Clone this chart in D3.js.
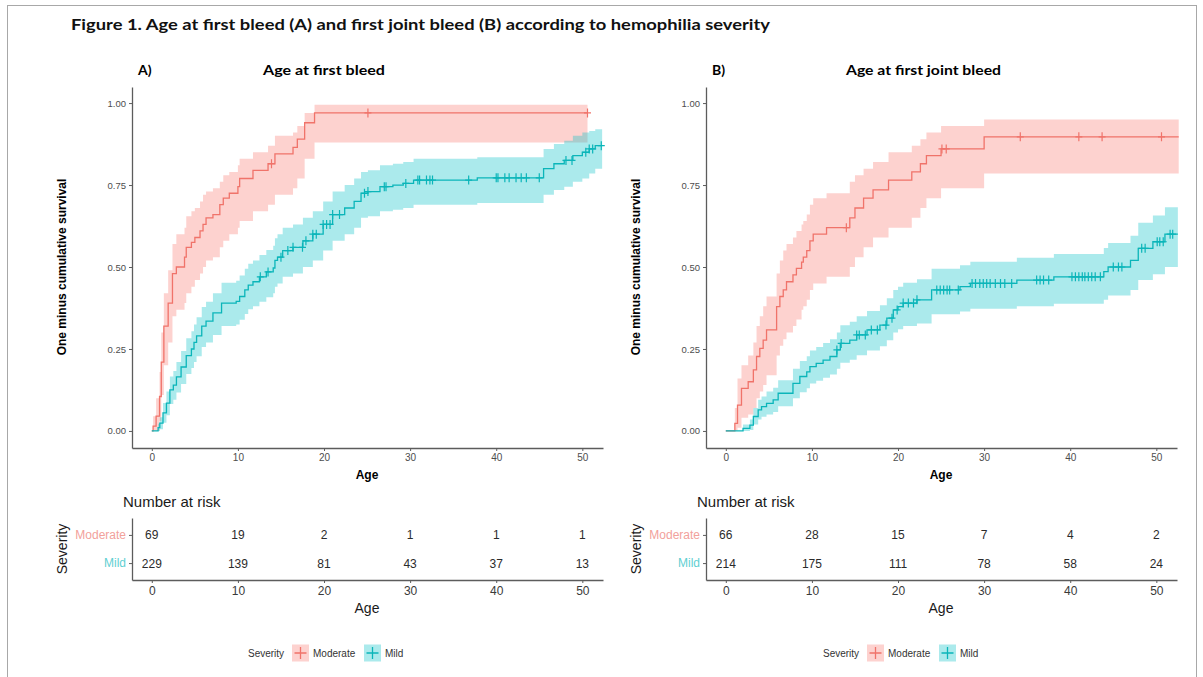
<!DOCTYPE html>
<html>
<head>
<meta charset="utf-8">
<script src="https://cdn.jsdelivr.net/npm/d3@7"></script>
<style>
body { margin: 0; background: #fff; }
</style>
</head>
<body>
<script>
// values

var figTitle = "Figure 1. Age at first bleed (A) and first joint bleed (B) according to hemophilia severity";
var ageTicks = [0, 10, 20, 30, 40, 50];
var survTicks = [0, 0.25, 0.5, 0.75, 1];
var severities = ["Moderate", "Mild"];

// A) age at first bleed, moderate
var aModTime = [0, 0.15, 0.5, 0.9, 1.1, 1.4, 1.9, 2.4, 2.85, 3.8, 4.0, 4.6, 5.0, 5.6, 5.95, 6.3, 7.1, 7.9, 8.3, 9.0, 10.0, 10.2, 11.75, 13.5, 14.3, 16.4, 16.9, 17.75, 18.9];
var aModEst = [0, 0.015, 0.045, 0.105, 0.21, 0.32, 0.39, 0.48, 0.50, 0.53, 0.56, 0.575, 0.59, 0.61, 0.63, 0.65, 0.66, 0.69, 0.71, 0.725, 0.745, 0.77, 0.795, 0.815, 0.845, 0.865, 0.89, 0.94, 0.97];
var aModLo = [0, 0, 0, 0.03, 0.11, 0.2, 0.27, 0.35, 0.37, 0.39, 0.42, 0.44, 0.46, 0.48, 0.5, 0.52, 0.53, 0.56, 0.58, 0.6, 0.62, 0.64, 0.67, 0.69, 0.72, 0.74, 0.77, 0.83, 0.88];
var aModHi = [0, 0.045, 0.1, 0.18, 0.3, 0.42, 0.49, 0.57, 0.6, 0.62, 0.655, 0.67, 0.68, 0.7, 0.72, 0.73, 0.74, 0.76, 0.78, 0.79, 0.81, 0.83, 0.85, 0.87, 0.9, 0.91, 0.93, 0.97, 0.995];
var aModCens = [13.9, 25.1, 50.6];
var aModEnd = 50.6;

// A) age at first bleed, mild
var aMildTime = [0, 0.73, 0.93, 1.3, 1.7, 2.1, 2.5, 2.86, 3.4, 4.0, 4.6, 4.9, 5.2, 5.8, 6.3, 7.1, 8.1, 9.8, 10.2, 10.8, 11.2, 11.75, 12.5, 13.3, 14.1, 14.3, 14.6, 15.2, 16.4, 17.55, 18.7, 19.9, 21.0, 22.4, 23.5, 24.3, 25.1, 26.5, 28.0, 29.2, 30.4, 37.8, 45.5, 46.7, 47.9, 48.9, 50.0, 50.8, 51.5];
var aMildEst = [0, 0.01, 0.024, 0.055, 0.085, 0.125, 0.14, 0.165, 0.195, 0.23, 0.25, 0.27, 0.29, 0.32, 0.335, 0.36, 0.39, 0.395, 0.41, 0.43, 0.445, 0.455, 0.47, 0.485, 0.497, 0.52, 0.53, 0.55, 0.56, 0.58, 0.60, 0.63, 0.66, 0.68, 0.70, 0.725, 0.73, 0.745, 0.75, 0.755, 0.765, 0.772, 0.80, 0.815, 0.825, 0.84, 0.85, 0.86, 0.87];
var aMildLo = [0, 0, 0.005, 0.025, 0.048, 0.082, 0.095, 0.117, 0.143, 0.174, 0.192, 0.21, 0.228, 0.256, 0.27, 0.293, 0.32, 0.325, 0.339, 0.357, 0.371, 0.38, 0.394, 0.408, 0.42, 0.44, 0.45, 0.47, 0.48, 0.5, 0.52, 0.55, 0.58, 0.6, 0.62, 0.65, 0.655, 0.67, 0.675, 0.68, 0.69, 0.695, 0.72, 0.735, 0.745, 0.76, 0.77, 0.785, 0.8];
var aMildHi = [0, 0.022, 0.042, 0.085, 0.12, 0.166, 0.183, 0.21, 0.244, 0.283, 0.304, 0.325, 0.347, 0.378, 0.394, 0.42, 0.452, 0.458, 0.474, 0.495, 0.51, 0.52, 0.537, 0.552, 0.565, 0.588, 0.6, 0.62, 0.63, 0.65, 0.67, 0.7, 0.73, 0.75, 0.77, 0.79, 0.795, 0.81, 0.815, 0.82, 0.83, 0.835, 0.86, 0.875, 0.885, 0.9, 0.91, 0.915, 0.92];
var aMildCens = [12.6, 13.5, 15.0, 15.8, 16.4, 17.5, 17.9, 18.7, 19.1, 19.9, 20.3, 20.7, 21.0, 21.8, 24.7, 25.1, 27.0, 27.2, 29.5, 30.9, 31.1, 31.9, 32.3, 32.6, 36.8, 40.0, 40.2, 41.0, 41.5, 42.3, 42.9, 43.5, 45.0, 48.1, 48.8, 50.4, 50.8, 51.2, 52.2];
var aMildEnd = 52.3;

// B) age at first joint bleed, moderate
var bModTime = [0, 1.05, 1.36, 1.82, 2.6, 3.2, 3.57, 3.95, 4.34, 4.73, 5.9, 6.28, 6.67, 7.05, 7.8, 8.2, 8.8, 9.0, 9.4, 9.77, 10.15, 11.7, 14.4, 15.0, 16.0, 17.1, 18.9, 21.6, 22.6, 23.3, 25.0, 30.0];
var bModEst = [0, 0.023, 0.079, 0.13, 0.15, 0.186, 0.227, 0.252, 0.277, 0.308, 0.379, 0.41, 0.43, 0.455, 0.476, 0.496, 0.515, 0.53, 0.55, 0.58, 0.60, 0.62, 0.65, 0.68, 0.71, 0.735, 0.765, 0.79, 0.815, 0.84, 0.86, 0.897];
var bModLo = [0, 0, 0.01, 0.04, 0.05, 0.07, 0.1, 0.12, 0.14, 0.17, 0.23, 0.26, 0.28, 0.3, 0.32, 0.34, 0.37, 0.38, 0.4, 0.43, 0.45, 0.47, 0.5, 0.53, 0.56, 0.59, 0.62, 0.65, 0.68, 0.71, 0.74, 0.785];
var bModHi = [0, 0.07, 0.16, 0.2, 0.23, 0.27, 0.32, 0.35, 0.38, 0.41, 0.48, 0.52, 0.55, 0.57, 0.59, 0.61, 0.63, 0.64, 0.66, 0.69, 0.71, 0.725, 0.76, 0.78, 0.8, 0.82, 0.85, 0.87, 0.89, 0.91, 0.93, 0.95];
var bModCens = [14.0, 25.1, 25.6, 34.2, 41.0, 43.7, 50.6];
var bModEnd = 52.6;

// B) age at first joint bleed, mild
var bMildTime = [0, 2.0, 2.8, 3.2, 3.76, 4.15, 4.73, 5.5, 6.08, 7.8, 8.6, 9.4, 9.77, 10.5, 11.3, 12.1, 12.9, 13.3, 14.4, 15.2, 16.4, 17.9, 18.7, 19.45, 20.0, 20.6, 22.2, 23.9, 27.2, 28.4, 33.8, 38.1, 43.9, 44.4, 47.0, 47.9, 49.6, 51.0];
var bMildEst = [0, 0.008, 0.018, 0.044, 0.064, 0.074, 0.084, 0.095, 0.115, 0.145, 0.166, 0.18, 0.196, 0.206, 0.216, 0.227, 0.247, 0.267, 0.277, 0.293, 0.308, 0.323, 0.344, 0.369, 0.379, 0.39, 0.40, 0.43, 0.44, 0.45, 0.46, 0.47, 0.486, 0.50, 0.52, 0.557, 0.577, 0.60];
var bMildLo = [0, 0, 0.003, 0.02, 0.035, 0.043, 0.05, 0.058, 0.075, 0.1, 0.118, 0.13, 0.145, 0.153, 0.162, 0.172, 0.19, 0.208, 0.217, 0.231, 0.245, 0.258, 0.277, 0.3, 0.31, 0.32, 0.328, 0.356, 0.364, 0.373, 0.38, 0.388, 0.4, 0.413, 0.43, 0.46, 0.478, 0.5];
var bMildHi = [0, 0.02, 0.035, 0.07, 0.095, 0.105, 0.12, 0.132, 0.155, 0.19, 0.213, 0.228, 0.245, 0.256, 0.268, 0.28, 0.3, 0.322, 0.333, 0.35, 0.366, 0.383, 0.405, 0.43, 0.44, 0.452, 0.463, 0.495, 0.505, 0.516, 0.528, 0.54, 0.558, 0.573, 0.595, 0.635, 0.657, 0.682];
var bMildCens = [12.9, 13.4, 15.2, 15.5, 16.2, 16.9, 17.6, 18.6, 19.3, 19.9, 20.6, 21.2, 21.8, 22.2, 24.5, 24.9, 25.3, 25.7, 26.0, 27.0, 28.6, 29.0, 29.5, 29.9, 30.3, 30.7, 31.3, 31.9, 32.4, 33.2, 36.1, 36.5, 36.9, 37.5, 40.2, 40.6, 41.0, 41.4, 41.7, 42.1, 42.5, 42.9, 43.5, 45.0, 45.6, 46.0, 48.3, 48.7, 50.1, 50.4, 50.8, 51.6, 51.9];
var bMildEnd = 52.5;

// number at risk at ageTicks
var aRiskMod = [69, 19, 2, 1, 1, 1];
var aRiskMild = [229, 139, 81, 43, 37, 13];
var bRiskMod = [66, 28, 15, 7, 4, 2];
var bRiskMild = [214, 175, 111, 78, 58, 24];

var modColor = "#F0736A", mildColor = "#0BB5B9";
var modFill = "#F8766D", mildFill = "#00BFC4";
var modLabel = "#F2A19B", mildLabel = "#5FCFD2";
var font = "'Liberation Sans', Arial, sans-serif";

var svg = d3.select("body").append("svg")
    .attr("width", 1203)
    .attr("height", 677);

// frame around the figure
svg.append("rect")
    .attr("x", 7.5).attr("y", 5.5)
    .attr("width", 1189).attr("height", 700)
    .attr("fill", "none").attr("stroke", "#a8a8a8");

svg.append("text")
    .attr("x", 71).attr("y", 30)
    .attr("font-family", "Lato, sans-serif")
    .attr("font-weight", 700)
    .attr("font-size", 16)
    .attr("textLength", 699)
    .attr("lengthAdjust", "spacingAndGlyphs")
    .attr("fill", "#111")
    .text(figTitle);

function stepValue(times, vals, t) {
    var v = vals[0];
    for (var i = 0; i < times.length; i++) {
        if (times[i] <= t) v = vals[i];
    }
    return v;
}

function styleAxis(sel, size, col) {
    sel.attr("font-family", font).attr("font-size", size);
    sel.select(".domain").attr("stroke", "#5c5c5c").attr("stroke-width", 1.3);
    sel.selectAll(".tick line").attr("stroke", "#5c5c5c");
    sel.selectAll(".tick text").attr("fill", col);
}

function drawPanel(left, letter, title, titleX, titleLen, series, riskMod, riskMild, legendX) {
    var x = d3.scaleLinear().domain([-2.3, 52.4]).range([left, left + 471]);
    var y = d3.scaleLinear().domain([-0.052, 1.049]).range([448, 87]);
    var g = svg.append("g");

    // confidence bands
    series.forEach(function(s) {
        var n = s.time.length - 1;
        var pts = s.time.map(function(t, i) { return [t, s.lo[i], s.hi[i]]; });
        pts.push([s.end, s.lo[n], s.hi[n]]);
        var band = d3.area()
            .curve(d3.curveStepAfter)
            .x(function(d) { return x(d[0]); })
            .y0(function(d) { return y(d[1]); })
            .y1(function(d) { return y(d[2]); });
        g.append("path").datum(pts)
            .attr("d", band)
            .attr("fill", s.fill)
            .attr("fill-opacity", 0.33);
    });

    // survival steps + censor marks
    series.forEach(function(s) {
        var n = s.time.length - 1;
        var pts = s.time.map(function(t, i) { return [t, s.est[i]]; });
        pts.push([s.end, s.est[n]]);
        var line = d3.line()
            .curve(d3.curveStepAfter)
            .x(function(d) { return x(d[0]); })
            .y(function(d) { return y(d[1]); });
        g.append("path").datum(pts)
            .attr("d", line)
            .attr("fill", "none")
            .attr("stroke", s.color)
            .attr("stroke-width", 1.3);

        g.selectAll(null)
            .data(s.cens)
            .enter()
            .append("path")
            .attr("d", "M-3.5,0H3.5M0,-4.5V4.5")
            .attr("transform", function(d) {
                return "translate(" + x(d) + "," + y(stepValue(s.time, s.est, d)) + ")";
            })
            .attr("stroke", s.color)
            .attr("stroke-width", 1.2);
    });

    var gx = g.append("g")
        .attr("transform", "translate(0,448)")
        .call(d3.axisBottom(x).tickValues(ageTicks).tickSize(3).tickSizeOuter(0));
    styleAxis(gx, 10, "#4d4d4d");

    var gy = g.append("g")
        .attr("transform", "translate(" + left + ",0)")
        .call(d3.axisLeft(y).tickValues(survTicks).tickFormat(d3.format(".2f")).tickSize(3).tickSizeOuter(0));
    styleAxis(gy, 9.5, "#4d4d4d");

    g.append("text")
        .attr("x", left + 235).attr("y", 479)
        .attr("text-anchor", "middle")
        .attr("font-family", font).attr("font-weight", 700).attr("font-size", 12)
        .text("Age");

    g.append("text")
        .attr("transform", "translate(" + (left - 66) + ",267) rotate(-90)")
        .attr("text-anchor", "middle")
        .attr("font-family", font).attr("font-weight", 700).attr("font-size", 12)
        .text("One minus cumulative survival");

    g.append("text")
        .attr("x", left + 6).attr("y", 75)
        .attr("font-family", "Lato, sans-serif").attr("font-weight", 700).attr("font-size", 14)
        .text(letter);

    g.append("text")
        .attr("x", titleX).attr("y", 75)
        .attr("font-family", "Lato, sans-serif").attr("font-weight", 700).attr("font-size", 14)
        .attr("textLength", titleLen).attr("lengthAdjust", "spacingAndGlyphs")
        .text(title);

    // number at risk table
    var ry = d3.scalePoint().domain(severities).range([518, 580]).padding(0.6);
    var risk = { Moderate: riskMod, Mild: riskMild };

    g.append("text")
        .attr("x", left - 9).attr("y", 507)
        .attr("font-family", font).attr("font-size", 15)
        .attr("fill", "#1a1a1a")
        .text("Number at risk");

    severities.forEach(function(sev) {
        g.selectAll(null)
            .data(risk[sev])
            .enter()
            .append("text")
            .attr("x", function(d, i) { return x(ageTicks[i]); })
            .attr("y", ry(sev) + 4.5)
            .attr("text-anchor", "middle")
            .attr("font-family", font).attr("font-size", 12)
            .attr("fill", "#2b2b2b")
            .text(function(d) { return d; });
    });

    var tx = g.append("g")
        .attr("transform", "translate(0,580)")
        .call(d3.axisBottom(x).tickValues(ageTicks).tickSize(3).tickSizeOuter(0));
    styleAxis(tx, 12, "#3a3a3a");

    var ty = g.append("g")
        .attr("transform", "translate(" + left + ",0)")
        .call(d3.axisLeft(ry).tickSize(3).tickSizeOuter(0));
    styleAxis(ty, 12, "#3a3a3a");
    ty.selectAll(".tick text").attr("fill", function(d) { return d === "Moderate" ? modLabel : mildLabel; });

    g.append("text")
        .attr("x", left + 235).attr("y", 613)
        .attr("text-anchor", "middle")
        .attr("font-family", font).attr("font-size", 14)
        .attr("fill", "#1a1a1a")
        .text("Age");

    g.append("text")
        .attr("transform", "translate(" + (left - 65) + ",549) rotate(-90)")
        .attr("text-anchor", "middle")
        .attr("font-family", font).attr("font-size", 14)
        .attr("fill", "#1a1a1a")
        .text("Severity");

    // legend
    var lg = g.append("g").attr("transform", "translate(" + legendX + ",653)");
    lg.append("text")
        .attr("x", 0).attr("y", 3.5)
        .attr("font-family", font).attr("font-size", 10).attr("fill", "#333")
        .text("Severity");
    var keys = [
        { label: "Moderate", color: modColor, fill: modFill, kx: 44 },
        { label: "Mild", color: mildColor, fill: mildFill, kx: 116 }
    ];
    keys.forEach(function(k) {
        lg.append("rect")
            .attr("x", k.kx).attr("y", -8.5)
            .attr("width", 17).attr("height", 17)
            .attr("fill", k.fill).attr("fill-opacity", 0.33);
        lg.append("path")
            .attr("d", "M-6,0H6M0,-6V6")
            .attr("transform", "translate(" + (k.kx + 8.5) + ",0)")
            .attr("stroke", k.color).attr("stroke-width", 1.3);
        lg.append("text")
            .attr("x", k.kx + 21).attr("y", 3.5)
            .attr("font-family", font).attr("font-size", 10).attr("fill", "#333")
            .text(k.label);
    });
}

drawPanel(132, "A)", "Age at first bleed", 263, 122, [
    { time: aModTime, est: aModEst, lo: aModLo, hi: aModHi, cens: aModCens, end: aModEnd, color: modColor, fill: modFill },
    { time: aMildTime, est: aMildEst, lo: aMildLo, hi: aMildHi, cens: aMildCens, end: aMildEnd, color: mildColor, fill: mildFill }
], aRiskMod, aRiskMild, 248);

drawPanel(706, "B)", "Age at first joint bleed", 846, 155, [
    { time: bModTime, est: bModEst, lo: bModLo, hi: bModHi, cens: bModCens, end: bModEnd, color: modColor, fill: modFill },
    { time: bMildTime, est: bMildEst, lo: bMildLo, hi: bMildHi, cens: bMildCens, end: bMildEnd, color: mildColor, fill: mildFill }
], bRiskMod, bRiskMild, 823);
</script>
</body>
</html>
